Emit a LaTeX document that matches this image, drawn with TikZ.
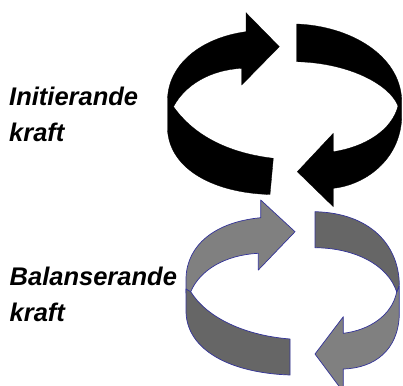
\documentclass[tikz,border=0pt]{standalone}
\usepackage{fontspec}
\setmainfont{Liberation Sans}
\definecolor{lightpiece}{RGB}{128,128,128}
\definecolor{darkpiece}{RGB}{102,102,102}
\definecolor{edgeblue}{RGB}{51,51,153}
\begin{document}
\begin{tikzpicture}[x=1pt,y=-1pt,
  blackpiece/.style={fill=black,draw=black,line width=0.3pt},
  grayl/.style={fill=lightpiece,draw=edgeblue,line width=0.7pt,line join=round},
  grayd/.style={fill=darkpiece,draw=edgeblue,line width=0.7pt,line join=round},
  lbl/.style={anchor=base west,inner sep=0pt,align=left,
    font=\fontsize{25.5}{36.7}\selectfont\bfseries\itshape}]
\useasboundingbox (0,0) rectangle (403,385);

% labels (base anchor = baseline of the last line)
\node[lbl] (init) at (9,141.7) {Initierande\\kraft};
\node[lbl] (bal) at (9.5,321.7) {Balanserande\\kraft};

% black cycle: left piece (upper arrow + front band)
\path[blackpiece] (246,31.7) -- (246,12.7) -- (279.3,46.7) -- (241.7,85) -- (241.7,68.3)
  .. controls (210,70) and (185,85) .. (173.5,106.7)
  .. controls (190,130) and (220,152) .. (273.3,158.3)
  -- (270,194.5)
  .. controls (215,193) and (170,170) .. (167.5,130)
  -- (167.5,100)
  .. controls (168,65) and (200,38) .. cycle;
% black cycle: right piece (back band + lower arrow)
\path[blackpiece] (296.7,24)
  .. controls (350,26) and (400,55) .. (401.7,100)
  -- (401.7,118)
  .. controls (400,160) and (365,185) .. (333.3,188.3)
  -- (333.3,206.7) -- (297.3,171.7) -- (333.3,133.3) -- (333.3,151.7)
  .. controls (365,147) and (392,130) .. (398,106)
  .. controls (390,85) and (350,63) .. (296.7,61.7) -- cycle;

% gray cycle: upper-left arrow (light)
\path[grayl] (260.7,217.7) -- (260.7,200) -- (295,231.7) -- (258.3,270) -- (258.3,253.3)
  .. controls (225,255) and (200,270) .. (190.7,291.7)
  -- (186,293) -- (186,278)
  .. controls (187,245) and (215,222) .. cycle;
% gray cycle: front-left band (dark)
\path[grayd] (190.7,291.7)
  .. controls (205,315) and (240,335) .. (290,339)
  -- (290,375)
  .. controls (230,373) and (187,350) .. (186,312)
  -- (186,289) -- cycle;
% gray cycle: lower-right arrow (light)
\path[grayl] (396.7,292) -- (399.3,286) -- (399.3,315)
  .. controls (398,350) and (375,368) .. (343.3,369)
  -- (343.3,392) -- (315,354) -- (343.3,316.7) -- (343.3,333.3)
  .. controls (370,330) and (392,315) .. cycle;
% gray cycle: back-right band (dark)
\path[grayd] (315,211.7)
  .. controls (370,213) and (399,245) .. (399.3,285)
  -- (396.7,292)
  .. controls (388,265) and (355,248) .. (315,247.7) -- cycle;
\end{tikzpicture}
\end{document}
